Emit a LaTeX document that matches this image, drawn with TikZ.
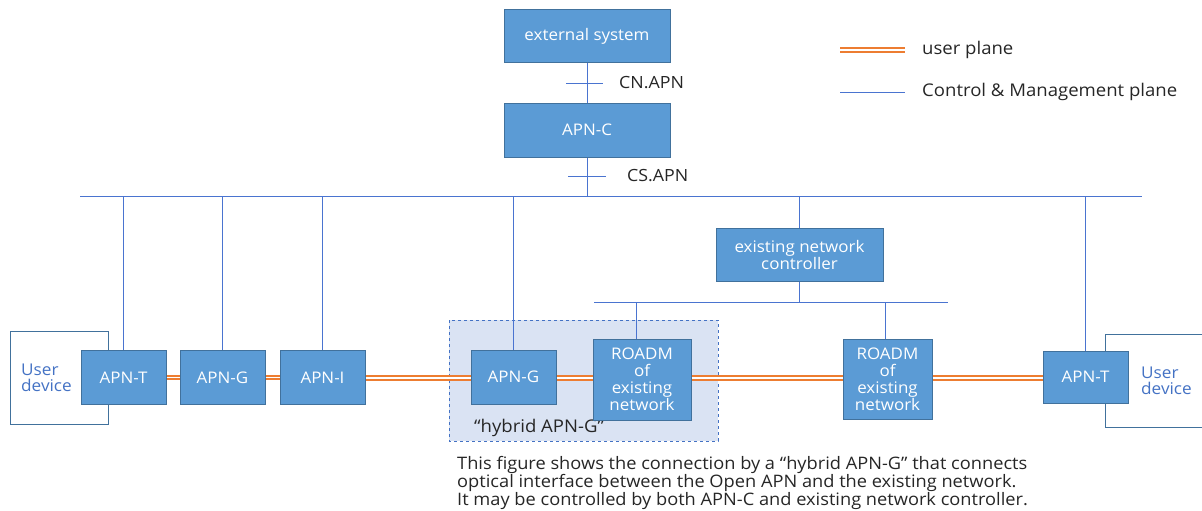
\documentclass[tikz,border=0pt]{standalone}
\usepackage{fontspec}
\setmainfont{Open Sans}[FakeStretch=1.06]
\definecolor{boxfill}{HTML}{5B9BD5}
\definecolor{boxline}{HTML}{41719C}
\definecolor{ctrlblue}{HTML}{4A74D0}
\definecolor{uorange}{HTML}{ED7D31}
\definecolor{hybfill}{HTML}{DAE3F3}
\definecolor{udtext}{HTML}{4472C4}
\definecolor{txt}{HTML}{262626}
\begin{document}
\begin{tikzpicture}[x=1pt,y=-1pt,
  box/.style={draw=boxline, fill=boxfill, text=white, font=\fontsize{16}{17}\selectfont, align=center, inner sep=0pt, line width=1pt},
  ctrl/.style={draw=ctrlblue, line width=1pt},
  uplane/.style={draw=uorange, double=white, line width=1.8pt, double distance=1.5pt},
  lbl/.style={text=txt, font=\fontsize{16.8}{17}\selectfont, inner sep=0pt},
  udbox/.style={draw=boxline, line width=1pt},
  udtxt/.style={text=udtext, font=\fontsize{16.2}{16.5}\selectfont, align=left, inner sep=0pt}]
\useasboundingbox (0,0) rectangle (1202,511);
% hybrid region
\draw[fill=hybfill, draw=udtext, dashed, line width=0.8pt] (449,320) rectangle (718,441);
\node[lbl, anchor=west, font=\fontsize{17.5}{18}\selectfont] (hyblbl) at (474,428) {“hybrid APN-G”};
% user device boxes
\draw[udbox] (10.5,331) rectangle (108,424);
\node[udtxt, anchor=west] (ud1) at (21,378) {User\\device};
\draw[udbox] (1105,334) -- (1210,334) (1105,334) -- (1105,427) -- (1210,427);
\node[udtxt, anchor=west] (ud2) at (1141,381) {User\\device};
% nodes
\node[box, minimum width=166, minimum height=53] (ext) at (587,36) {external system};
\node[box, minimum width=166, minimum height=54] (apnc) at (587,130) {APN-C};
\node[box, minimum width=167, minimum height=53] (enc) at (799.5,254.5) {existing network\\controller};
\node[box, minimum width=85, minimum height=54] (apnT1) at (123.5,377.5) {APN-T};
\node[box, minimum width=85, minimum height=54] (apnG1) at (222.5,377.5) {APN-G};
\node[box, minimum width=85, minimum height=54] (apnI) at (322.5,377.5) {APN-I};
\node[box, minimum width=85, minimum height=54] (apnG2) at (513.5,377) {APN-G};
\node[box, minimum width=98, minimum height=81] (roadm1) at (642,379.5) {ROADM\\of\\existing\\network};
\node[box, minimum width=89, minimum height=80] (roadm2) at (887.5,379) {ROADM\\of\\existing\\network};
\node[box, minimum width=85, minimum height=52] (apnT2) at (1085.5,377) {APN-T};
% buses
\coordinate (busL) at (80,196);
\coordinate (busR) at (1142,196);
\draw[ctrl] (busL) -- (busR);
\coordinate (bus2L) at (594,302);
\coordinate (bus2R) at (948,302);
\draw[ctrl] (bus2L) -- (bus2R);
% control connectors
\draw[ctrl] (ext.south) -- (apnc.north);
\draw[ctrl] (apnc.south) -- (apnc.south |- busL);
\draw[ctrl] (apnT1.north -| 123,0) -- (123,196);
\draw[ctrl] (apnG1.north) -- (apnG1.north |- busL);
\draw[ctrl] (apnI.north) -- (apnI.north |- busL);
\draw[ctrl] (apnG2.north) -- (apnG2.north |- busL);
\draw[ctrl] (enc.north) -- (enc.north |- busL);
\draw[ctrl] (apnT2.north) -- (apnT2.north |- busL);
\draw[ctrl] (enc.south) -- (enc.south |- bus2L);
\draw[ctrl] (636,0 |- roadm1.north) -- (636,302);
\draw[ctrl] (885,0 |- roadm2.north) -- (885,302);
% interface ticks
\coordinate (cnA) at (566,83);
\coordinate (cnB) at (603,83);
\draw[ctrl] (cnA) -- (cnB);
\node[lbl, anchor=west] (cn) at (619,83) {CN.APN};
\coordinate (csA) at (568,176);
\coordinate (csB) at (606,176);
\draw[ctrl] (csA) -- (csB);
\node[lbl, anchor=west] (cs) at (627,176) {CS.APN};
% user plane
\draw[uplane] (apnT1.east) -- (apnG1.west);
\draw[uplane] (apnG1.east) -- (apnI.west);
\draw[uplane] (apnI.east |- 0,378) -- (apnG2.west |- 0,378);
\draw[uplane] (apnG2.east |- 0,378) -- (roadm1.west |- 0,378);
\draw[uplane] (roadm1.east |- 0,378) -- (roadm2.west |- 0,378);
\draw[uplane] (roadm2.east |- 0,378) -- (apnT2.west |- 0,378);
% legend
\coordinate (lgA) at (840,50);
\coordinate (lgB) at (905,50);
\draw[uplane] (lgA) -- (lgB);
\node[lbl, anchor=west, font=\fontsize{17.5}{18}\selectfont] (lg1) at (922,50) {user plane};
\coordinate (lgC) at (840,92);
\coordinate (lgD) at (905,92);
\draw[ctrl] (lgC) -- (lgD);
\node[lbl, anchor=west, font=\fontsize{17.5}{18}\selectfont] (lg2) at (922,92) {Control \& Management plane};
% caption
\node[lbl, anchor=north west, align=left, font=\fontsize{17.2}{16.8}\selectfont] (cap) at (457,456) {This figure shows the connection by a “hybrid APN-G” that connects\\optical interface between the Open APN and the existing network.\\It may be controlled by both APN-C and existing network controller.};
\end{tikzpicture}
\end{document}
